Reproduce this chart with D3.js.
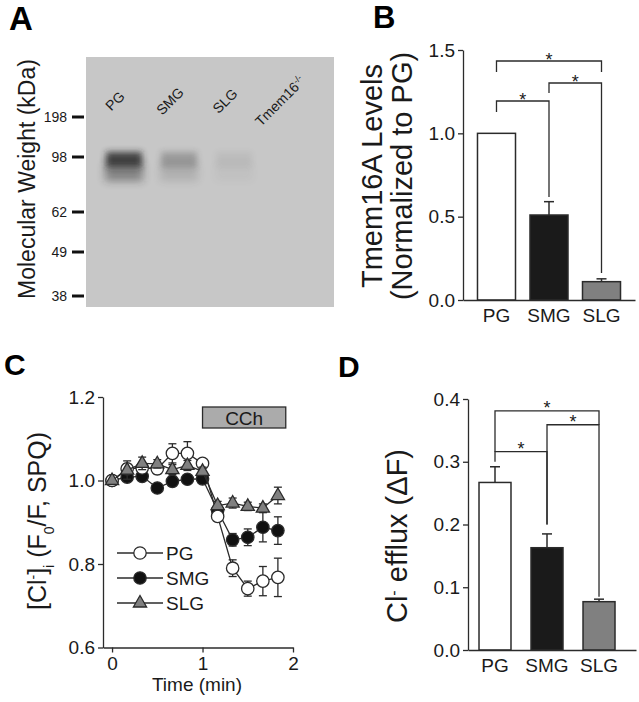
<!DOCTYPE html>
<html>
<head>
<meta charset="utf-8">
<script src="https://cdn.jsdelivr.net/npm/d3@7"></script>
<style>
body { margin: 0; background: #fff; }
text { font-family: "Liberation Sans", Arial, sans-serif; fill: #1a1a1a; }
</style>
</head>
<body>
<svg id="fig" width="639" height="702"></svg>
<script>
// ---- data ----

// A: western blot
var lanes = ["PG", "SMG", "SLG", "Tmem16-/-"];
var bandDensity = [1.0, 0.33, 0.08, 0];
var bandMigration = 0.42;            // fraction of blot height
var markerKDa = ["198", "98", "62", "49", "38"];
var markerMigration = [0.24, 0.40, 0.62, 0.78, 0.956];

// B: Tmem16A levels
var glands = ["PG", "SMG", "SLG"];
var tmemLevel = [1.0, 0.51, 0.11];
var tmemSem = [0, 0.08, 0.017];
var tmemTicks = [0, 0.5, 1.0, 1.5];
var tmemBrackets = [
  { a: "PG", b: "SLG", level: 1.434, endA: 1.368, endB: 1.368 },
  { a: "SMG", b: "SLG", level: 1.302, endA: 1.242, endB: 0.162 },
  { a: "PG", b: "SMG", level: 1.194, endA: 1.128, endB: 0.618 }
];

// C: [Cl-]i time course
var timeMin = [0, 0.167, 0.333, 0.5, 0.667, 0.833, 1.0, 1.167, 1.333, 1.5, 1.667, 1.833];
var pgCl  = [1.0, 1.028, 1.03, 1.028, 1.065, 1.065, 1.041, 0.914, 0.79, 0.741, 0.759, 0.768];
var pgSem = [0, 0.012, 0.01, 0.012, 0.023, 0.028, 0.008, 0.012, 0.02, 0.018, 0.035, 0.046];
var smgCl  = [1.0, 1.008, 1.01, 0.982, 0.998, 1.003, 1.004, 0.928, 0.858, 0.864, 0.888, 0.88];
var smgSem = [0, 0.008, 0.008, 0.008, 0.012, 0.008, 0.008, 0.012, 0.015, 0.02, 0.035, 0.033];
var slgCl  = [1.0, 1.025, 1.041, 1.04, 1.026, 1.036, 1.022, 0.94, 0.946, 0.938, 0.934, 0.964];
var slgSem = [0, 0.022, 0.015, 0.01, 0.012, 0.012, 0.01, 0.01, 0.012, 0.01, 0.01, 0.02];
var cchWindow = [1.0, 1.92];
var clXTicks = [0, 1, 2];
var clYTicks = [0.6, 0.8, 1.0, 1.2];

// D: Cl- efflux
var effluxVal = [0.267, 0.163, 0.077];
var effluxSem = [0.025, 0.022, 0.004];
var effluxTicks = [0, 0.1, 0.2, 0.3, 0.4];
var effluxBrackets = [
  { a: "PG", b: "SLG", level: 0.381, endA: 0.316, endB: 0.359 },
  { a: "SMG", b: "SLG", level: 0.359, endA: 0.2, endB: 0.085 },
  { a: "PG", b: "SMG", level: 0.316, endA: 0.300, endB: 0.2 }
];

var barFill = { PG: "#ffffff", SMG: "#1a1a1a", SLG: "#808080" };
var ink = "#2b2b2b";

var svg = d3.select("#fig");

// panel letters
var letters = [["A", 9, 30, 33], ["B", 373, 28, 31], ["C", 4, 375, 30], ["D", 338, 377, 30]];
svg.selectAll("text.letter").data(letters).enter().append("text")
  .attr("class", "letter")
  .attr("x", function(d) { return d[1]; })
  .attr("y", function(d) { return d[2]; })
  .attr("font-size", function(d) { return d[3]; })
  .attr("font-weight", "bold")
  .style("fill", "#000")
  .text(function(d) { return d[0]; });

// ================= A =================
var blot = { x: 86, y: 57, w: 248, h: 250 };
var defs = svg.append("defs");
defs.append("filter").attr("id", "blur").attr("x", "-50%").attr("y", "-50%").attr("width", "200%").attr("height", "200%")
  .append("feGaussianBlur").attr("stdDeviation", 3);
defs.append("filter").attr("id", "blur2").attr("x", "-50%").attr("y", "-50%").attr("width", "200%").attr("height", "200%")
  .append("feGaussianBlur").attr("stdDeviation", 4.5);

svg.append("rect")
  .attr("x", blot.x).attr("y", blot.y).attr("width", blot.w).attr("height", blot.h)
  .attr("fill", "#c7c7c7");

var yBlot = d3.scaleLinear().domain([0, 1]).range([blot.y, blot.y + blot.h]);
var xLane = d3.scalePoint().domain(lanes).range([124, 289]);

var bands = lanes.map(function(l, i) { return { lane: l, d: bandDensity[i] }; })
  .filter(function(b) { return b.d > 0; });

// lower smear
svg.append("g").selectAll("rect").data(bands).enter().append("rect")
  .attr("x", function(b) { return xLane(b.lane) - 19; })
  .attr("y", yBlot(bandMigration) + 1)
  .attr("width", 38).attr("height", 18)
  .attr("fill", "#222")
  .attr("opacity", function(b) { return b.d * 0.42; })
  .attr("filter", "url(#blur2)");

// band core
svg.append("g").selectAll("rect").data(bands).enter().append("rect")
  .attr("x", function(b) { return xLane(b.lane) - 18; })
  .attr("y", yBlot(bandMigration) - 10)
  .attr("width", 36).attr("height", 15)
  .attr("fill", "#222")
  .attr("opacity", function(b) { return Math.min(1, b.d * 0.8); })
  .attr("filter", "url(#blur)");

// lane labels
var laneLab = svg.append("g").selectAll("text").data(lanes).enter().append("text")
  .attr("transform", function(l) { return "translate(" + (xLane(l) - 9) + ",101) rotate(-45)"; })
  .attr("text-anchor", "middle")
  .attr("dy", "0.35em")
  .attr("font-size", 14);
laneLab.each(function(l) {
  var t = d3.select(this);
  if (l.indexOf("-/-") > 0) {
    t.append("tspan").text(l.replace("-/-", ""));
    t.append("tspan").attr("baseline-shift", "super").attr("font-size", 9).text("-/-");
  } else {
    t.text(l);
  }
});

// marker ladder
var mk = svg.append("g");
mk.selectAll("line").data(markerMigration).enter().append("line")
  .attr("x1", 72).attr("x2", 84)
  .attr("y1", function(m) { return yBlot(m); })
  .attr("y2", function(m) { return yBlot(m); })
  .attr("stroke", "#111").attr("stroke-width", 3);
mk.selectAll("text").data(markerMigration).enter().append("text")
  .attr("x", 67)
  .attr("y", function(m) { return yBlot(m); })
  .attr("dy", "0.35em")
  .attr("text-anchor", "end")
  .attr("font-size", 14)
  .text(function(m, i) { return markerKDa[i]; });

svg.append("text")
  .attr("transform", "translate(35,179) rotate(-90)")
  .attr("text-anchor", "middle")
  .attr("font-size", 23)
  .text("Molecular Weight (kDa)");

// ========== bar chart helper (B, D) ==========
function barPanel(o) {
  var g = svg.append("g");
  var x = d3.scaleBand().domain(glands).range([o.x0, o.x1])
    .paddingInner(o.pi).paddingOuter(o.po).align(o.align);
  var y = d3.scaleLinear().domain(o.ydom).range([o.yb, o.yt]);

  // error bars (upward)
  glands.forEach(function(gl, i) {
    if (o.sem[i] <= 0) return;
    var cx = x(gl) + x.bandwidth() / 2;
    g.append("line").attr("x1", cx).attr("x2", cx)
      .attr("y1", y(o.vals[i])).attr("y2", y(o.vals[i] + o.sem[i]))
      .attr("stroke", ink).attr("stroke-width", 1.5);
    g.append("line").attr("x1", cx - 5).attr("x2", cx + 5)
      .attr("y1", y(o.vals[i] + o.sem[i])).attr("y2", y(o.vals[i] + o.sem[i]))
      .attr("stroke", ink).attr("stroke-width", 1.5);
  });

  g.selectAll("rect.bar").data(glands).enter().append("rect")
    .attr("class", "bar")
    .attr("x", function(d) { return x(d); })
    .attr("y", function(d, i) { return y(o.vals[i]); })
    .attr("width", x.bandwidth())
    .attr("height", function(d, i) { return y(0) - y(o.vals[i]); })
    .attr("fill", function(d) { return barFill[d]; })
    .attr("stroke", ink).attr("stroke-width", 1.5);

  // axes
  var ya = g.append("g").attr("transform", "translate(" + o.x0 + ",0)")
    .call(d3.axisLeft(y).tickValues(o.ticks).tickFormat(d3.format(".1f")).tickSize(5).tickSizeOuter(0).tickPadding(3));
  ya.selectAll("text").attr("font-size", 19).style("font-family", null);
  var xa = g.append("g").attr("transform", "translate(0," + o.yb + ")")
    .call(d3.axisBottom(x).tickSize(0).tickPadding(9));
  xa.selectAll("text").attr("font-size", 19).style("font-family", null);
  g.selectAll(".domain, .tick line").attr("stroke", ink).attr("stroke-width", 1.3);

  // significance brackets
  o.brackets.forEach(function(b) {
    var xa_ = x(b.a) + x.bandwidth() / 2, xb_ = x(b.b) + x.bandwidth() / 2;
    var p = d3.path();
    p.moveTo(xa_, y(b.endA));
    p.lineTo(xa_, y(b.level));
    p.lineTo(xb_, y(b.level));
    p.lineTo(xb_, y(b.endB));
    g.append("path").attr("d", p.toString()).attr("fill", "none")
      .attr("stroke", ink).attr("stroke-width", 1.3);
    g.append("text").attr("x", (xa_ + xb_) / 2).attr("y", y(b.level) + o.starOff)
      .attr("text-anchor", "middle").attr("font-size", 18).text("*");
  });
  return g;
}

// ================= B =================
barPanel({
  x0: 463, x1: 635, pi: 0.276, po: 0.276, align: 0.5,
  ydom: [0, 1.5], yb: 300, yt: 50,
  vals: tmemLevel, sem: tmemSem, ticks: tmemTicks,
  brackets: tmemBrackets, starOff: 5
});
var bl = svg.append("text")
  .attr("transform", "translate(385,176) rotate(-90)")
  .attr("text-anchor", "middle")
  .attr("font-size", 29);
bl.append("tspan").attr("x", 0).attr("dy", "-0.12em").text("Tmem16A Levels");
bl.append("tspan").attr("x", 0).attr("dy", "1.05em").text("(Normalized to PG)");

// ================= D =================
barPanel({
  x0: 468, x1: 636, pi: 0.385, po: 0.3077, align: 0.344,
  ydom: [0, 0.4], yb: 650, yt: 399,
  vals: effluxVal, sem: effluxSem, ticks: effluxTicks,
  brackets: effluxBrackets, starOff: 3
});
var dl = svg.append("text")
  .attr("transform", "translate(407,536) rotate(-90)")
  .attr("text-anchor", "middle")
  .attr("font-size", 29);
dl.append("tspan").text("Cl");
dl.append("tspan").attr("baseline-shift", "super").attr("font-size", 16).text("-");
dl.append("tspan").text(" efflux (\u0394F)");

// ================= C =================
var xC = d3.scaleLinear().domain([-0.1, 2]).range([103, 293]);
var yC = d3.scaleLinear().domain([0.6, 1.2]).range([647.5, 397]);
var gC = svg.append("g");

// CCh bar
gC.append("rect")
  .attr("x", xC(cchWindow[0])).attr("y", yC(1.2) + 10)
  .attr("width", xC(cchWindow[1]) - xC(cchWindow[0])).attr("height", 21)
  .attr("fill", "#ababab").attr("stroke", ink).attr("stroke-width", 1.3);
gC.append("text")
  .attr("x", (xC(cchWindow[0]) + xC(cchWindow[1])) / 2).attr("y", yC(1.2) + 21)
  .attr("dy", "0.35em").attr("text-anchor", "middle").attr("font-size", 19).text("CCh");

var triPath = "M0,-7.5L6.6,4L-6.6,4Z";
var series = [
  { name: "SMG", v: smgCl, e: smgSem, fill: "#111111", shape: "circle" },
  { name: "PG", v: pgCl, e: pgSem, fill: "#ffffff", shape: "circle" },
  { name: "SLG", v: slgCl, e: slgSem, fill: "#808080", shape: "tri" }
];
var line = d3.line().x(function(d) { return xC(d[0]); }).y(function(d) { return yC(d[1]); });

series.forEach(function(s) {
  var pts = timeMin.map(function(t, i) { return [t, s.v[i], s.e[i]]; });
  var sg = gC.append("g");
  sg.selectAll("g.err").data(pts.filter(function(p) { return p[2] > 0; })).enter().append("g")
    .each(function(p) {
      var e = d3.select(this), cx = xC(p[0]);
      e.append("line").attr("x1", cx).attr("x2", cx)
        .attr("y1", yC(p[1] - p[2])).attr("y2", yC(p[1] + p[2]));
      e.append("line").attr("x1", cx - 4).attr("x2", cx + 4)
        .attr("y1", yC(p[1] + p[2])).attr("y2", yC(p[1] + p[2]));
      e.append("line").attr("x1", cx - 4).attr("x2", cx + 4)
        .attr("y1", yC(p[1] - p[2])).attr("y2", yC(p[1] - p[2]));
    })
    .selectAll("line").attr("stroke", ink).attr("stroke-width", 1.3);
  sg.append("path").datum(pts).attr("d", line)
    .attr("fill", "none").attr("stroke", ink).attr("stroke-width", 1.3);
  var m = sg.selectAll(".mk").data(pts).enter();
  if (s.shape === "circle") {
    m.append("circle").attr("cx", function(p) { return xC(p[0]); }).attr("cy", function(p) { return yC(p[1]); })
      .attr("r", 6.2).attr("fill", s.fill).attr("stroke", ink).attr("stroke-width", 1.3);
  } else {
    m.append("path").attr("d", triPath)
      .attr("transform", function(p) { return "translate(" + xC(p[0]) + "," + yC(p[1]) + ")"; })
      .attr("fill", s.fill).attr("stroke", ink).attr("stroke-width", 1.3);
  }
});

// axes
var cya = gC.append("g").attr("transform", "translate(103,0)")
  .call(d3.axisLeft(yC).tickValues(clYTicks).tickFormat(d3.format(".1f")).tickSize(5).tickSizeOuter(0).tickPadding(3));
var cxa = gC.append("g").attr("transform", "translate(0,647.5)")
  .call(d3.axisBottom(xC).tickValues(clXTicks).tickFormat(d3.format("d")).tickSize(5).tickSizeOuter(0).tickPadding(4));
gC.selectAll(".tick text").attr("font-size", 19).style("font-family", null);
gC.selectAll(".domain, .tick line").attr("stroke", ink).attr("stroke-width", 1.3);

gC.append("text").attr("x", 197).attr("y", 691).attr("text-anchor", "middle")
  .attr("font-size", 19).text("Time (min)");

var cl = gC.append("text")
  .attr("transform", "translate(46,521) rotate(-90)")
  .attr("text-anchor", "middle")
  .attr("font-size", 25);
cl.append("tspan").text("[Cl");
cl.append("tspan").attr("baseline-shift", "super").attr("font-size", 14).text("-");
cl.append("tspan").text("]");
cl.append("tspan").attr("baseline-shift", "sub").attr("font-size", 14).text("i");
cl.append("tspan").text(" (F");
cl.append("tspan").attr("baseline-shift", "sub").attr("font-size", 14).text("0");
cl.append("tspan").text("/F, SPQ)");

// legend
var leg = gC.append("g").selectAll("g").data(["PG", "SMG", "SLG"]).enter().append("g")
  .attr("transform", function(d, i) { return "translate(117," + (553 + i * 25) + ")"; });
leg.append("line").attr("x1", 0).attr("x2", 46).attr("stroke", ink).attr("stroke-width", 1.3);
leg.each(function(d) {
  var s = series.filter(function(q) { return q.name === d; })[0];
  var e = d3.select(this);
  if (s.shape === "circle") {
    e.append("circle").attr("cx", 23).attr("r", 6.2).attr("fill", s.fill).attr("stroke", ink).attr("stroke-width", 1.3);
  } else {
    e.append("path").attr("d", triPath).attr("transform", "translate(23,0)")
      .attr("fill", s.fill).attr("stroke", ink).attr("stroke-width", 1.3);
  }
});
leg.append("text").attr("x", 49).attr("dy", "0.36em").attr("font-size", 19).text(function(d) { return d; });
</script>
</body>
</html>
